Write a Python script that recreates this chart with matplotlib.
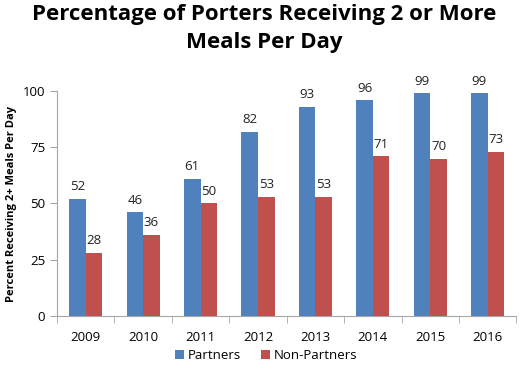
import matplotlib
matplotlib.use("Agg")
import matplotlib.pyplot as plt
import numpy as np

years = ["2009", "2010", "2011", "2012", "2013", "2014", "2015", "2016"]
partners = [52, 46, 61, 82, 93, 96, 99, 99]
non_partners = [28, 36, 50, 53, 53, 71, 70, 73]

plt.rcParams['font.family'] = ['Open Sans', 'DejaVu Sans']

fig = plt.figure(figsize=(5.28, 3.72), dpi=100)
ax = fig.add_axes([0.108, 0.151, 0.870, 0.604])

x = np.arange(len(years))
w = 0.29
b1 = ax.bar(x - w/2, partners, w, color='#4F81BD', label='Partners')
b2 = ax.bar(x + w/2, non_partners, w, color='#C0504D', label='Non-Partners')

for rect, v in zip(list(b1) + list(b2), partners + non_partners):
    ax.text(rect.get_x() + rect.get_width()/2, v + 2.5, str(v),
            ha='center', va='bottom', fontsize=9.5, color='#222222')

ax.set_xlim(-0.5, len(years) - 0.5)
ax.set_ylim(0, 100)
ax.set_yticks([0, 25, 50, 75, 100])
ax.set_xticks(x)
ax.set_xticklabels(years)
ax.set_xticks(np.arange(-0.5, len(years), 1), minor=True)
ax.tick_params(axis='x', which='major', length=0, pad=11, labelsize=9.5)
ax.tick_params(axis='x', which='minor', length=5, color='#A6A6A6')
ax.tick_params(axis='y', length=5, color='#A6A6A6', labelsize=9.5)

for s in ['top', 'right']:
    ax.spines[s].set_visible(False)
for s in ['left', 'bottom']:
    ax.spines[s].set_color('#A6A6A6')

ax.set_ylabel('Percent Receiving 2+ Meals Per Day', fontsize=8, fontweight='bold')

fig.suptitle('Percentage of Porters Receiving 2 or More\nMeals Per Day',
             fontsize=16, fontweight='bold', y=0.99, linespacing=1.45)

ax.legend(loc='upper center', bbox_to_anchor=(0.455, -0.095), ncol=2,
          frameon=False, fontsize=9.5, handlelength=0.7, handleheight=0.7,
          handletextpad=0.3, columnspacing=1.5)

fig.savefig('out.png', dpi=100)
